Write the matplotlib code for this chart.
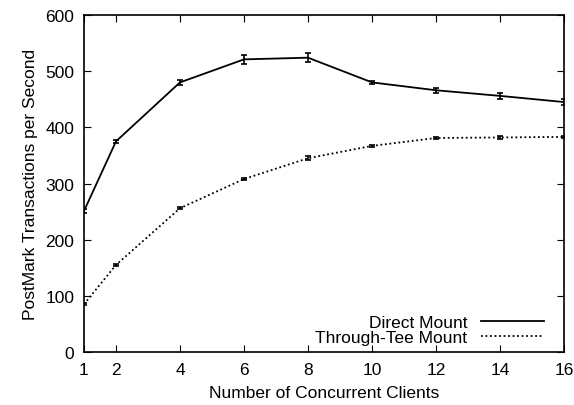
import matplotlib
matplotlib.use('Agg')
import matplotlib.pyplot as plt
from matplotlib.lines import Line2D

plt.rcParams['font.family'] = ['Liberation Sans', 'DejaVu Sans']

clients = [1, 2, 4, 6, 8, 10, 12, 14, 16]
direct = [251, 375, 480, 521, 524, 480, 466, 456, 445]
direct_err = [3, 2, 5, 8, 8, 3, 4, 6, 5]
tee = [85, 155, 256, 308, 345, 367, 381, 382, 383]
tee_err = [2, 2, 2, 2, 4, 2, 2, 3, 2]

fig = plt.figure(figsize=(5.74, 4.06), dpi=100)
ax = fig.add_axes([0.1463, 0.1305, 0.8363, 0.8301])

dotted = (0, (1, 1.5))
ax.errorbar(clients, direct, yerr=direct_err, color='black', lw=1.3,
            capsize=2, elinewidth=1.2, capthick=1.2)
ax.errorbar(clients, tee, yerr=tee_err, color='black', lw=1.3, ls=dotted,
            capsize=2, elinewidth=1.2, capthick=1.2)

ax.set_xlim(1, 16)
ax.set_ylim(0, 600)
ax.set_xticks(clients)
ax.set_yticks(range(0, 601, 100))
ax.tick_params(direction='in', top=True, right=True, labelsize=12.5, length=5, width=0.8, pad=7)
for s in ax.spines.values():
    s.set_linewidth(1.2)

ax.set_xlabel('Number of Concurrent Clients', fontsize=12.5, labelpad=6)
ax.set_ylabel('PostMark Transactions per Second', fontsize=12.5, labelpad=5)

handles = [Line2D([], [], color='black', lw=1.3),
           Line2D([], [], color='black', lw=1.3, ls=dotted)]
leg = ax.legend(handles, ['Direct Mount', 'Through-Tee Mount'], loc='lower right',
                frameon=False, markerfirst=False, fontsize=12.5,
                handlelength=3.6, handletextpad=0.8, labelspacing=0.0,
                borderaxespad=0.0, bbox_to_anchor=(0.972, 0.0))
for t in leg.get_texts():
    t.set_ha('right')

fig.savefig('out.png', dpi=100)
